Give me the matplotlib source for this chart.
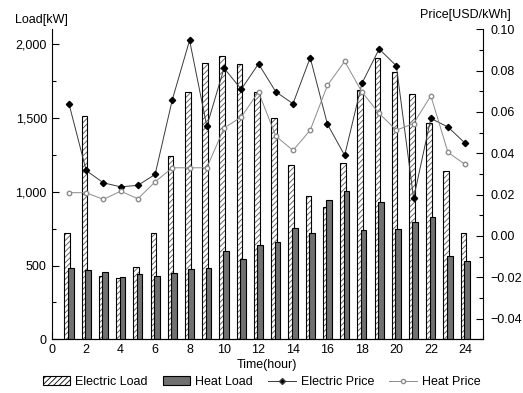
import matplotlib
matplotlib.use("Agg")
import matplotlib.pyplot as plt
from matplotlib.ticker import MultipleLocator, StrMethodFormatter
from matplotlib.patches import Patch
from matplotlib.lines import Line2D

hours = list(range(1, 25))
electric_load = [718, 1515, 430, 413, 487, 717, 1245, 1674, 1873, 1922, 1863, 1677,
                 1496, 1178, 971, 893, 1193, 1687, 1908, 1811, 1662, 1462, 1139, 717]
heat_load = [480, 469, 458, 420, 440, 430, 449, 474, 485, 598, 546, 636,
             661, 755, 722, 943, 1002, 740, 931, 745, 794, 828, 566, 532]
electric_price = [0.064, 0.0317, 0.0257, 0.0238, 0.0245, 0.0298, 0.066, 0.0947,
                  0.0531, 0.0812, 0.071, 0.0833, 0.0698, 0.064, 0.0863, 0.0541,
                  0.039, 0.0738, 0.0905, 0.0823, 0.0182, 0.0569, 0.0527, 0.0448]
heat_price = [0.021, 0.0209, 0.0177, 0.0217, 0.018, 0.0262, 0.033, 0.033,
              0.033, 0.0522, 0.0576, 0.0697, 0.0484, 0.0414, 0.0512, 0.0729,
              0.0845, 0.0697, 0.0593, 0.0512, 0.0544, 0.0678, 0.0404, 0.0346]

plt.rcParams['font.family'] = ['Liberation Sans', 'DejaVu Sans']
plt.rcParams['font.size'] = 9
plt.rcParams['hatch.linewidth'] = 0.6

fig = plt.figure(figsize=(5.23, 3.93), dpi=100)
ax = fig.add_axes([0.0989, 0.1366, 0.8237, 0.7888])
ax2 = ax.twinx()

# bars on the load axis (hatch drawn in grey, outline in black on top)
el_x = [h - 0.1 for h in hours]
ht_x = [h + 0.1 for h in hours]
ax.bar(el_x, electric_load, width=0.33, color='white', edgecolor='#555555',
       hatch='//////', linewidth=0, zorder=2)
ax.bar(el_x, electric_load, width=0.33, fill=False, edgecolor='black',
       linewidth=0.8, zorder=2)
ax.bar(ht_x, heat_load, width=0.33, color='#707070', edgecolor='black',
       linewidth=0.8, zorder=3)

# price lines
ax2.plot(hours, electric_price, color='#3a3a3a', lw=0.7, marker='D',
         markersize=3.2, markerfacecolor='black', markeredgecolor='black')
ax2.plot(hours, heat_price, color='#8c8c8c', lw=0.7, marker='o',
         markersize=3.2, markerfacecolor='white', markeredgecolor='#8c8c8c')

ax.set_xlim(0, 25)
ax.set_ylim(0, 2100)
ax2.set_ylim(-0.05, 0.10)

ax.xaxis.set_major_locator(MultipleLocator(2))
ax.xaxis.set_minor_locator(MultipleLocator(1))
ax.yaxis.set_major_locator(MultipleLocator(500))
ax.yaxis.set_minor_locator(MultipleLocator(250))
ax.yaxis.set_major_formatter(StrMethodFormatter('{x:,.0f}'))
ax2.yaxis.set_major_locator(MultipleLocator(0.02))
ax2.yaxis.set_minor_locator(MultipleLocator(0.01))
ax2.yaxis.set_major_formatter(StrMethodFormatter('{x:.2f}'))

for a in (ax, ax2):
    a.spines['top'].set_visible(False)
    a.tick_params(which='major', direction='in', length=5, width=0.8, labelsize=9)
    a.tick_params(which='minor', direction='in', length=3, width=0.8)
ax.spines['right'].set_visible(False)
ax2.spines['left'].set_visible(False)
ax2.tick_params(axis='y', which='both', pad=6)

fig.text(0.029, 0.948, 'Load[kW]', fontsize=9, va='center', ha='left')
fig.text(0.977, 0.961, 'Price[USD/kWh]', fontsize=9, va='center', ha='right')
ax.set_xlabel('Time(hour)', fontsize=9, labelpad=2)

handles = [
    Patch(facecolor='white', edgecolor='black', hatch='//////', linewidth=0.8),
    Patch(facecolor='#707070', edgecolor='black', linewidth=0.8),
    Line2D([], [], color='#3a3a3a', lw=0.7, marker='D', markersize=3,
           markerfacecolor='black'),
    Line2D([], [], color='#8c8c8c', lw=0.7, marker='o', markersize=3,
           markerfacecolor='white', markeredgecolor='#8c8c8c'),
]
labels = ['Electric Load', 'Heat Load', 'Electric Price', 'Heat Price']
fig.legend(handles, labels, loc='center', bbox_to_anchor=(0.5, 0.028), ncol=4,
           frameon=False, fontsize=9, handlelength=2.2, handletextpad=0.4,
           columnspacing=1.2, borderaxespad=0)

fig.savefig('out.png', dpi=100)
